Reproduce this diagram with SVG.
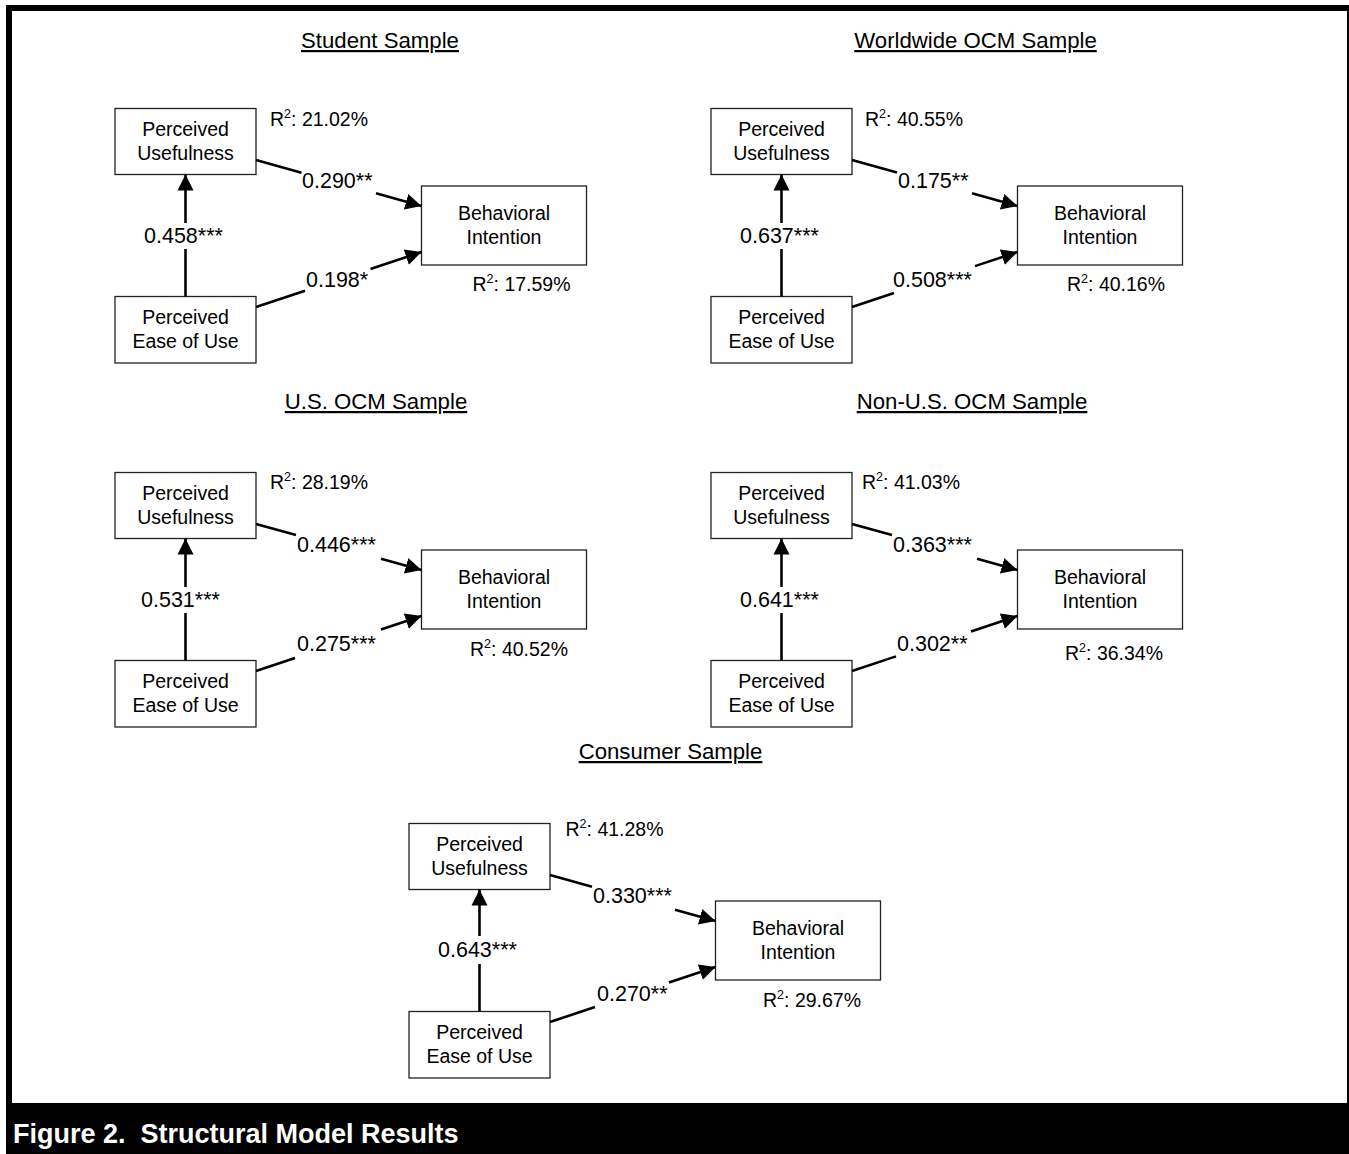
<svg xmlns="http://www.w3.org/2000/svg" width="1349" height="1154" viewBox="0 0 1349 1154">
<defs>
<style>
text{font-family:"Liberation Sans",Arial,Helvetica,sans-serif;fill:#000}
.box{fill:#fff;stroke:#222;stroke-width:1.3}
.nt{font-size:19.5px;text-anchor:middle}
.r2{font-size:19.5px}
.sup{font-size:12.5px}
.ttl{font-size:22.2px;text-anchor:middle;text-decoration:underline}
.el{font-size:21.5px}
.conn line{stroke:#000;stroke-width:2.6;fill:none}
.cap{font-size:27px;font-weight:bold;fill:#fff;white-space:pre}
</style>
<marker id="ah" markerUnits="userSpaceOnUse" markerWidth="16" markerHeight="17" viewBox="0 0 16 17" refX="16" refY="8.5" orient="auto">
<path d="M0,0.5 L16,8.5 L0,16.5 z" fill="#000"/>
</marker>
</defs>

<rect x="6" y="5" width="1343" height="1149" fill="#000"/>
<rect x="12" y="11" width="1335" height="1092" fill="#fff"/>
<text class="cap" x="13" y="1143" xml:space="preserve">Figure 2.  Structural Model Results</text>

<!-- Titles -->
<text class="ttl" x="380" y="48">Student Sample</text>
<text class="ttl" x="975.5" y="48">Worldwide OCM Sample</text>
<text class="ttl" x="376" y="409">U.S. OCM Sample</text>
<text class="ttl" x="972" y="409">Non-U.S. OCM Sample</text>
<text class="ttl" x="670.5" y="759">Consumer Sample</text>

<!-- R squared labels -->
<text class="r2" x="270" y="126">R<tspan class="sup" dy="-8">2</tspan><tspan dy="8">: 21.02%</tspan></text>
<text class="r2" x="472.5" y="291">R<tspan class="sup" dy="-8">2</tspan><tspan dy="8">: 17.59%</tspan></text>
<text class="r2" x="865" y="126">R<tspan class="sup" dy="-8">2</tspan><tspan dy="8">: 40.55%</tspan></text>
<text class="r2" x="1067" y="291">R<tspan class="sup" dy="-8">2</tspan><tspan dy="8">: 40.16%</tspan></text>
<text class="r2" x="270" y="489">R<tspan class="sup" dy="-8">2</tspan><tspan dy="8">: 28.19%</tspan></text>
<text class="r2" x="470" y="656">R<tspan class="sup" dy="-8">2</tspan><tspan dy="8">: 40.52%</tspan></text>
<text class="r2" x="862" y="489">R<tspan class="sup" dy="-8">2</tspan><tspan dy="8">: 41.03%</tspan></text>
<text class="r2" x="1065" y="660">R<tspan class="sup" dy="-8">2</tspan><tspan dy="8">: 36.34%</tspan></text>
<text class="r2" x="565.5" y="836">R<tspan class="sup" dy="-8">2</tspan><tspan dy="8">: 41.28%</tspan></text>
<text class="r2" x="763" y="1007">R<tspan class="sup" dy="-8">2</tspan><tspan dy="8">: 29.67%</tspan></text>

<!-- Student nodes -->
<g id="s-pu"><rect class="box" x="115" y="108.5" width="141" height="66"/><text class="nt" x="185.5" y="136">Perceived</text><text class="nt" x="185.5" y="160">Usefulness</text></g>
<g id="s-peu"><rect class="box" x="115" y="296.5" width="141" height="66.5"/><text class="nt" x="185.5" y="324">Perceived</text><text class="nt" x="185.5" y="348">Ease of Use</text></g>
<g id="s-bi"><rect class="box" x="421.5" y="186" width="165" height="79"/><text class="nt" x="504" y="220">Behavioral</text><text class="nt" x="504" y="244">Intention</text></g>

<!-- Worldwide nodes -->
<g id="w-pu"><rect class="box" x="711" y="108.5" width="141" height="66"/><text class="nt" x="781.5" y="136">Perceived</text><text class="nt" x="781.5" y="160">Usefulness</text></g>
<g id="w-peu"><rect class="box" x="711" y="296.5" width="141" height="66.5"/><text class="nt" x="781.5" y="324">Perceived</text><text class="nt" x="781.5" y="348">Ease of Use</text></g>
<g id="w-bi"><rect class="box" x="1017.5" y="186" width="165" height="79"/><text class="nt" x="1100" y="220">Behavioral</text><text class="nt" x="1100" y="244">Intention</text></g>

<!-- U.S. nodes -->
<g id="u-pu"><rect class="box" x="115" y="472.5" width="141" height="66"/><text class="nt" x="185.5" y="500">Perceived</text><text class="nt" x="185.5" y="524">Usefulness</text></g>
<g id="u-peu"><rect class="box" x="115" y="660.5" width="141" height="66.5"/><text class="nt" x="185.5" y="688">Perceived</text><text class="nt" x="185.5" y="712">Ease of Use</text></g>
<g id="u-bi"><rect class="box" x="421.5" y="550" width="165" height="79"/><text class="nt" x="504" y="584">Behavioral</text><text class="nt" x="504" y="608">Intention</text></g>

<!-- Non-U.S. nodes -->
<g id="n-pu"><rect class="box" x="711" y="472.5" width="141" height="66"/><text class="nt" x="781.5" y="500">Perceived</text><text class="nt" x="781.5" y="524">Usefulness</text></g>
<g id="n-peu"><rect class="box" x="711" y="660.5" width="141" height="66.5"/><text class="nt" x="781.5" y="688">Perceived</text><text class="nt" x="781.5" y="712">Ease of Use</text></g>
<g id="n-bi"><rect class="box" x="1017.5" y="550" width="165" height="79"/><text class="nt" x="1100" y="584">Behavioral</text><text class="nt" x="1100" y="608">Intention</text></g>

<!-- Consumer nodes -->
<g id="c-pu"><rect class="box" x="409" y="823.5" width="141" height="66"/><text class="nt" x="479.5" y="851">Perceived</text><text class="nt" x="479.5" y="875">Usefulness</text></g>
<g id="c-peu"><rect class="box" x="409" y="1011.5" width="141" height="66.5"/><text class="nt" x="479.5" y="1039">Perceived</text><text class="nt" x="479.5" y="1063">Ease of Use</text></g>
<g id="c-bi"><rect class="box" x="715.5" y="901" width="165" height="79"/><text class="nt" x="798" y="935">Behavioral</text><text class="nt" x="798" y="959">Intention</text></g>

<!-- Connectors -->
<g id="connectors" class="conn">
<!-- Student -->
<line x1="256" y1="160" x2="301.5" y2="172.65"/><line x1="376" y1="193.35" x2="421.5" y2="206" marker-end="url(#ah)"/>
<line x1="256" y1="307" x2="305" y2="290.71"/><line x1="370.5" y1="268.95" x2="421.5" y2="252" marker-end="url(#ah)"/>
<line x1="185.5" y1="296.5" x2="185.5" y2="249"/><line x1="185.5" y1="223" x2="185.5" y2="174.5" marker-end="url(#ah)"/>
<text class="el" x="302" y="188">0.290**</text>
<text class="el" x="306" y="287">0.198*</text>
<text class="el" x="144" y="243">0.458***</text>
<!-- Worldwide -->
<line x1="852" y1="160" x2="897" y2="172.5"/><line x1="972" y1="193.35" x2="1017.5" y2="206" marker-end="url(#ah)"/>
<line x1="852" y1="307" x2="894" y2="293.04"/><line x1="975" y1="266.12" x2="1017.5" y2="252" marker-end="url(#ah)"/>
<line x1="781.5" y1="296.5" x2="781.5" y2="249"/><line x1="781.5" y1="223" x2="781.5" y2="174.5" marker-end="url(#ah)"/>
<text class="el" x="898" y="188">0.175**</text>
<text class="el" x="893" y="287">0.508***</text>
<text class="el" x="740" y="243">0.637***</text>
<!-- U.S. -->
<line x1="256" y1="524" x2="296" y2="535.12"/><line x1="381" y1="558.74" x2="421.5" y2="570" marker-end="url(#ah)"/>
<line x1="256" y1="671" x2="295" y2="658.04"/><line x1="381" y1="629.46" x2="421.5" y2="616" marker-end="url(#ah)"/>
<line x1="185.5" y1="660.5" x2="185.5" y2="613"/><line x1="185.5" y1="587" x2="185.5" y2="538.5" marker-end="url(#ah)"/>
<text class="el" x="297" y="552">0.446***</text>
<text class="el" x="297" y="651">0.275***</text>
<text class="el" x="141" y="607">0.531***</text>
<!-- Non-U.S. -->
<line x1="852" y1="524" x2="892" y2="535.12"/><line x1="977" y1="558.74" x2="1017.5" y2="570" marker-end="url(#ah)"/>
<line x1="852" y1="671" x2="896" y2="656.38"/><line x1="971" y1="631.45" x2="1017.5" y2="616" marker-end="url(#ah)"/>
<line x1="781.5" y1="660.5" x2="781.5" y2="613"/><line x1="781.5" y1="587" x2="781.5" y2="538.5" marker-end="url(#ah)"/>
<text class="el" x="893" y="552">0.363***</text>
<text class="el" x="897" y="651">0.302**</text>
<text class="el" x="740" y="607">0.641***</text>
<!-- Consumer -->
<line x1="550" y1="875" x2="592" y2="886.67"/><line x1="675" y1="909.74" x2="715.5" y2="921" marker-end="url(#ah)"/>
<line x1="550" y1="1022" x2="595" y2="1007.05"/><line x1="669" y1="982.45" x2="715.5" y2="967" marker-end="url(#ah)"/>
<line x1="479.5" y1="1011.5" x2="479.5" y2="964"/><line x1="479.5" y1="936" x2="479.5" y2="889.5" marker-end="url(#ah)"/>
<text class="el" x="593" y="903">0.330***</text>
<text class="el" x="597" y="1001">0.270**</text>
<text class="el" x="438" y="957">0.643***</text>
</g>
</svg>
